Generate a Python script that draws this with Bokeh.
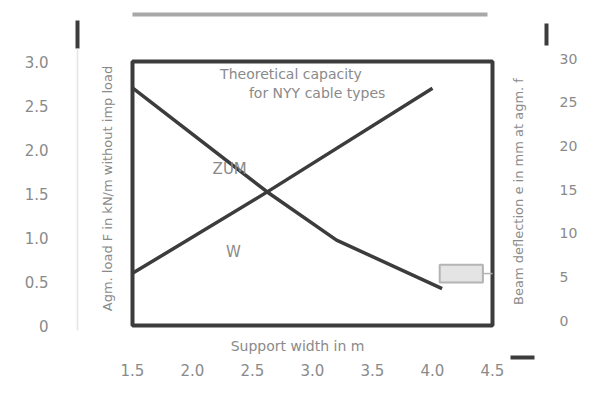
import math
from bokeh.plotting import figure
from bokeh.models import LinearAxis, Range1d, FixedTicker
from bokeh.core.properties import value
from bokeh.embed import file_html
from bokeh.resources import INLINE

# ---- data ----
zum_width = [1.5, 2.62, 3.2, 4.08]        # support width in m
zum_load = [2.70, 1.52, 0.97, 0.42]       # admissible load F in kN/m
w_width = [1.5, 2.62, 4.0]                # support width in m
w_defl = [5.4, 14.7, 26.6]                # beam deflection in mm

x_ticks = [1.5, 2.0, 2.5, 3.0, 3.5, 4.0, 4.5]
x_tick_labels = ["1.5", "2.0", "2.5", "3.0", "3.5", "4.0", "4.5"]
y_ticks = [0, 0.5, 1.0, 1.5, 2.0, 2.5, 3.0]
y_tick_labels = ["0", "0.5", "1.0", "1.5", "2.0", "2.5", "3.0"]
y2_ticks = [0, 5, 10, 15, 20, 25, 30]
y2_tick_labels = ["0", "5", "10", "15", "20", "25", "30"]

title_left = "Agm. load F in kN/m without imp load"
title_right = "Beam deflection e in mm at agm. f"
title_bottom = "Support width in m"
note_lines = ["Theoretical capacity", "for NYY cable types"]
curve_names = ["ZUM", "W"]

FONT = "DejaVu Sans"
TXT = "#8a8a8a"
DARK = "#3c3c3c"

# ---- page geometry (pixels) ----
W, H = 579, 382
X0_PX, X_SCALE = 132, 120.0      # where x = 1.5 sits, px per metre
Y0_PX, Y_SCALE = 325, 88.0       # where y = 0 sits, px per kN/m
Y2_0_PX, Y2_SCALE = 320, 8.733   # deflection axis: where 0 mm sits, px per mm


def px2x(px):
    return x_ticks[0] + (px - X0_PX) / X_SCALE


def py2y(py):
    return (Y0_PX - py) / Y_SCALE


p = figure(width=W, height=H, output_backend="svg", toolbar_location=None,
           x_range=Range1d(px2x(0), px2x(W)), y_range=Range1d(py2y(H), py2y(0)),
           x_axis_location=None, y_axis_location=None,
           min_border=0, outline_line_color=None)
p.extra_y_ranges = {"defl": Range1d((Y2_0_PX - H) / Y2_SCALE, Y2_0_PX / Y2_SCALE)}
p.grid.visible = False
p.background_fill_color = "white"
p.border_fill_color = "white"


def tick_axis(ticks, labels, where, standoff, size="15px", **kw):
    a = LinearAxis(ticker=FixedTicker(ticks=ticks), fixed_location=where, **kw)
    a.major_label_overrides = {t: l for t, l in zip(ticks, labels)}
    a.major_label_standoff = standoff
    a.major_label_text_font = FONT
    a.major_label_text_font_size = size
    a.major_label_text_color = TXT
    a.major_tick_line_color = None
    a.minor_tick_line_color = None
    a.major_tick_out = 0
    a.major_tick_in = 0
    a.axis_line_color = None
    return a


# value axes, placed away from the chart box like in the scan
left_ax = tick_axis(y_ticks, y_tick_labels, px2x(77), 29)
left_ax.axis_line_color = "#e4e4e4"
left_ax.axis_line_width = 1.5
left_ax.bounds = (py2y(330), py2y(48))
p.add_layout(left_ax, "left")
p.add_layout(tick_axis(y2_ticks, y2_tick_labels, px2x(546), 13, size="14px",
                       y_range_name="defl"), "right")
p.add_layout(tick_axis(x_ticks, x_tick_labels, py2y(357), 6), "below")

# chart box
p.quad(left=[x_ticks[0]], right=[x_ticks[-1]], bottom=[y_ticks[0]], top=[y_ticks[-1]],
       fill_color=None, line_color=DARK, line_width=4)

# curves
p.line(zum_width, zum_load, line_color=DARK, line_width=3.5)
p.line(w_width, w_defl, line_color=DARK, line_width=3.5, y_range_name="defl")

# axis titles
p.text(x=[px2x(107), px2x(518)], y=[py2y(188), py2y(191)], text=[title_left, title_right],
       angle=math.pi / 2, text_font=value(FONT), text_font_size="13px", text_color=TXT,
       text_align="center", text_baseline="middle")
p.text(x=[px2x(297)], y=[py2y(345)], text=[title_bottom],
       text_font=value(FONT), text_font_size="14px", text_color=TXT,
       text_align="center", text_baseline="middle")

# labels inside
p.text(x=[2.31, 2.34], y=[1.78, 0.83], text=curve_names,
       text_font=value(FONT), text_font_size="15px", text_color=TXT,
       text_align="center", text_baseline="middle")
p.text(x=[2.23, 2.47], y=[2.86, 2.64], text=note_lines,
       text_font=value(FONT), text_font_size="14px", text_color=TXT,
       text_align="left", text_baseline="middle")

# small marker box at the end of ZUM
p.rect(x=[4.24], y=[0.59], width=0.36, height=0.2, fill_color="#e4e4e4",
       line_color="#b4b4b4", line_width=2)
p.segment(x0=[4.42], y0=[0.59], x1=[x_ticks[-1]], y1=[0.59], line_color="#b4b4b4",
          line_width=1.5)

# decorative strokes: axis arrows and the grey rule on top
p.segment(x0=[px2x(77), px2x(546), px2x(510)],
          y0=[py2y(48), py2y(45), py2y(357)],
          x1=[px2x(77), px2x(546), px2x(534)],
          y1=[py2y(20), py2y(23), py2y(357)],
          line_color=DARK, line_width=4)
p.segment(x0=[x_ticks[0]], y0=[py2y(14)], x1=[px2x(487)], y1=[py2y(14)],
          line_color="#a8a8a8", line_width=4)

open("out.html", "w").write(file_html(p, INLINE))
